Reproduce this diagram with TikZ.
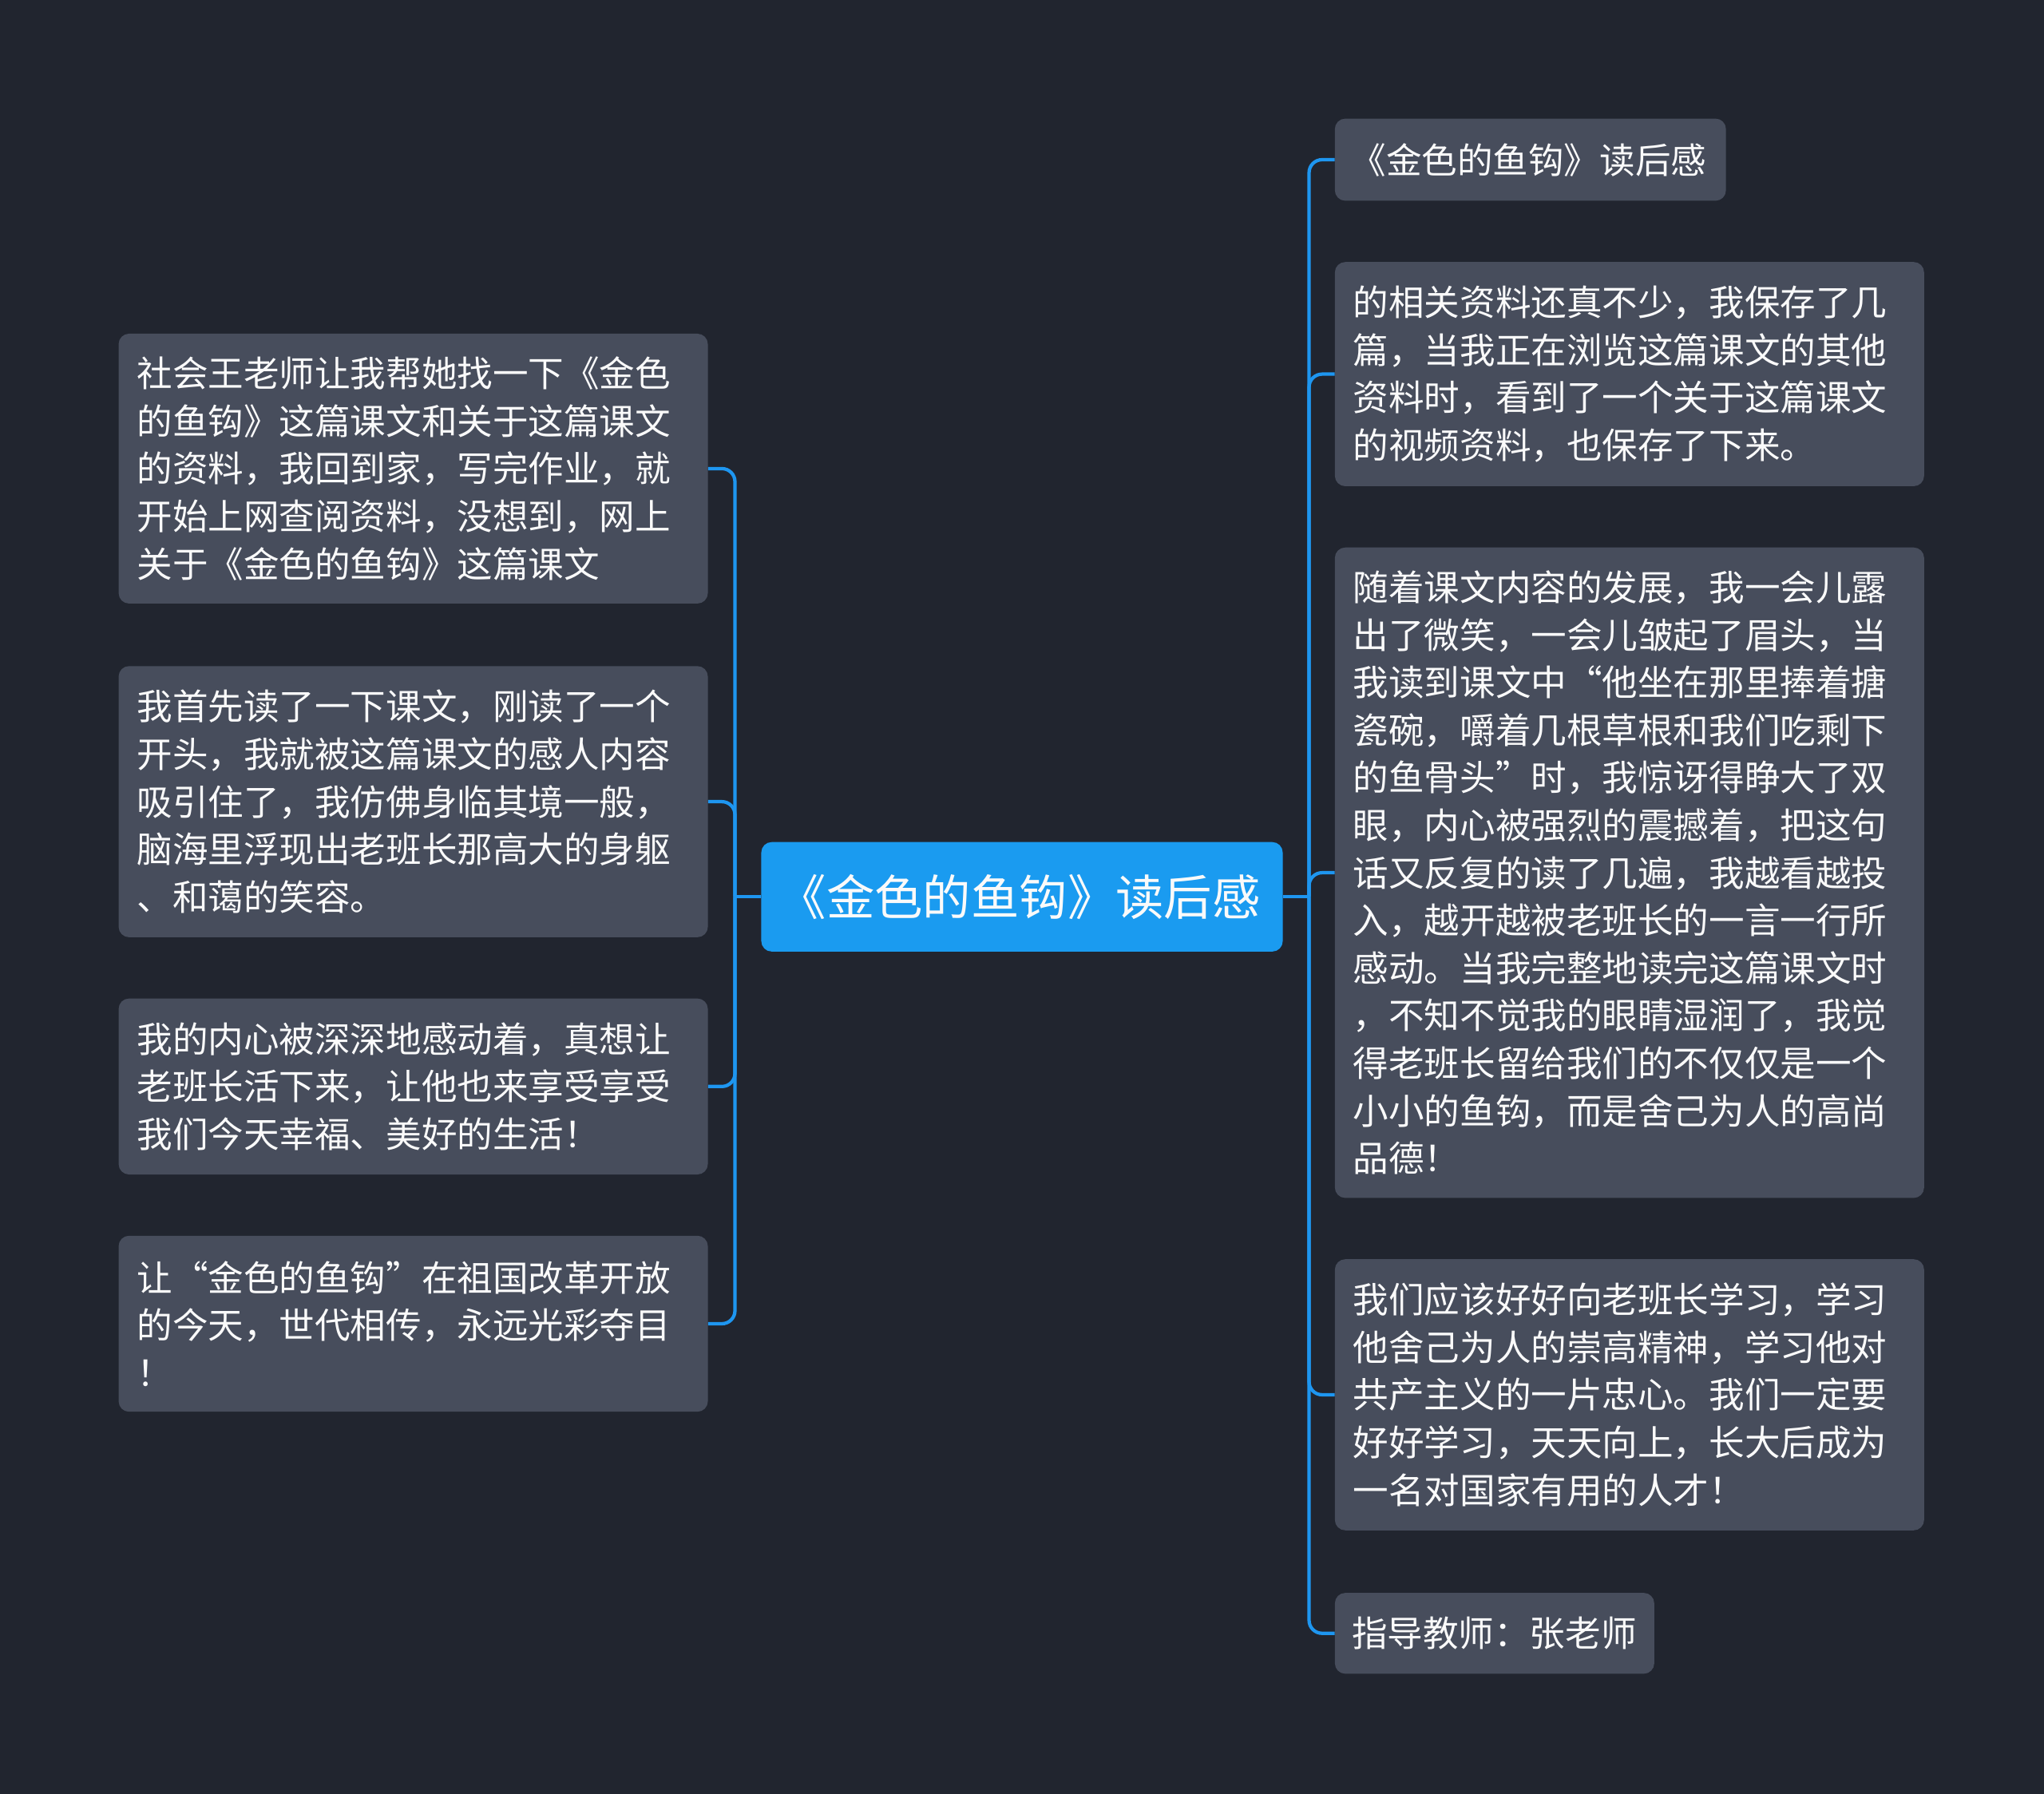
\documentclass[tikz,border=0pt]{standalone}
\usepackage{fontspec}
\setmainfont{Noto Sans CJK SC}
\usetikzlibrary{calc}
\definecolor{bgc}{RGB}{33,37,47}
\definecolor{boxc}{RGB}{71,77,92}
\definecolor{bluec}{RGB}{26,155,240}
\definecolor{linec}{RGB}{30,150,240}
\definecolor{txtc}{RGB}{250,250,250}
\begin{document}
\begin{tikzpicture}[x=1pt,y=-1pt,
  topic/.style={fill=boxc, rounded corners=8pt, text=txtc,
    font=\fontsize{27.3}{36.5}\selectfont, align=left,
    inner xsep=14pt, inner ysep=0pt, anchor=center},
  central/.style={fill=bluec, rounded corners=8pt, text=txtc,
    font=\fontsize{37}{42}\selectfont, align=center,
    minimum width=400pt, minimum height=84pt, inner sep=0pt, anchor=center},
  conn/.style={draw=linec, line width=2.6pt},
  rconn/.style={conn, rounded corners=10pt}]
\fill[bgc] (0,0) rectangle (1568,1376);
\useasboundingbox (0,0) rectangle (1568,1376);

% central topic
\node[central] (c) at (784,688) {\hspace*{-4pt}《金色的鱼钩》读后感};

% right branch
\node[topic, text width=276pt, inner xsep=12pt, minimum height=63pt] (r1) at (1174,122.5) {《金色的鱼钩》读后感};
\node[topic, text width=424pt, minimum height=172pt] (r2) at (1250,287) {的相关资料还真不少，我保存了几\\
篇，当我正在浏览这篇课文的其他\\
资料时，看到了一个关于这篇课文\\
的视频资料，也保存了下来。};
\node[topic, text width=424pt, minimum height=499pt] (r3) at (1250,669.5) {随着课文内容的发展，我一会儿露\\
出了微笑，一会儿皱起了眉头，当\\
我读到课文中“他坐在那里捧着搪\\
瓷碗，嚼着几根草根和我们吃剩下\\
的鱼骨头”时，我惊讶得睁大了双\\
眼，内心被强烈的震撼着，把这句\\
话又反复的读了几遍，我越看越投\\
入，越开越被老班长的一言一行所\\
感动。当我完整地读完这篇课文时\\
，不知不觉我的眼睛湿润了，我觉\\
得老班长留给我们的不仅仅是一个\\
小小的鱼钩，而是舍己为人的高尚\\
品德！};
\node[topic, text width=424pt, minimum height=208pt] (r4) at (1250,1070) {我们应该好好向老班长学习，学习\\
他舍己为人的崇高精神，学习他对\\
共产主义的一片忠心。我们一定要\\
好好学习，天天向上，长大后成为\\
一名对国家有用的人才！};
\node[topic, text width=219pt, inner xsep=13pt, minimum height=62pt] (r5) at (1146.5,1253) {指导教师：张老师};

% left branch
\node[topic, text width=424pt, minimum height=207pt] (l1) at (317,359.5) {社会王老师让我帮她找一下《金色\\
的鱼钩》这篇课文和关于这篇课文\\
的资料，我回到家，写完作业，就\\
开始上网查阅资料，没想到，网上\\
关于《金色的鱼钩》这篇课文};
\node[topic, text width=424pt, minimum height=208pt] (l2) at (317,615) {我首先读了一下课文，刚读了一个\\
开头，我就被这篇课文的感人内容\\
吸引住了，我仿佛身临其境一般，\\
脑海里浮现出老班长那高大的身躯\\
、和蔼的笑容。};
\node[topic, text width=424pt, minimum height=135pt] (l3) at (317,833.5) {我的内心被深深地感动着，真想让\\
老班长活下来，让他也来享受享受\\
我们今天幸福、美好的生活！};
\node[topic, text width=424pt, minimum height=135pt] (l4) at (317,1015.5) {让“金色的鱼钩”在祖国改革开放\\
的今天，世代相传，永远光彩夺目\\
！};

% junctions
\coordinate (rj) at ($(c.east)+(20,0)$);
\coordinate (lj) at ($(c.west)+(-20,0)$);
\draw[conn] (c.east) -- (rj);
\draw[conn] (c.west) -- (lj);
\foreach \n in {r1,r2,r3,r4,r5} \draw[rconn] (rj) |- (\n.west);
\foreach \n in {l1,l2,l3,l4} \draw[rconn] (lj) |- (\n.east);
\end{tikzpicture}
\end{document}
